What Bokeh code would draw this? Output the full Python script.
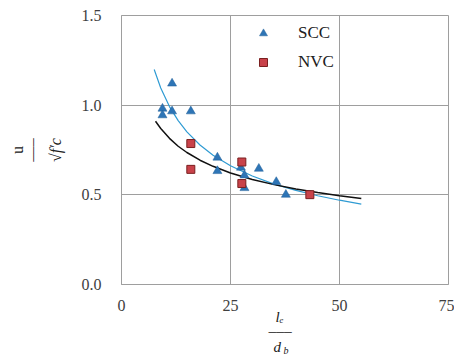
import math
from bokeh.plotting import figure
from bokeh.models import Range1d, FixedTicker, Legend, LegendItem, CustomJSTickFormatter, Title
from bokeh.embed import file_html
from bokeh.resources import INLINE

# SCC data (triangles)
scc_x = [11.6, 9.4, 9.4, 11.6, 15.9, 22.0, 22.0, 27.4, 28.2, 28.2, 31.5, 35.5, 37.7]
scc_y = [1.121, 0.981, 0.944, 0.966, 0.966, 0.708, 0.633, 0.652, 0.609, 0.538, 0.646, 0.572, 0.501]
# NVC data (squares)
nvc_x = [15.9, 15.9, 27.6, 27.6, 43.2]
nvc_y = [0.786, 0.642, 0.683, 0.563, 0.501]
# trend curves
blue_x = [7.5, 9, 11, 13, 15, 18, 21, 25, 30, 35, 40, 45, 50, 55]
blue_y = [1.199, 1.096, 0.992, 0.914, 0.851, 0.778, 0.721, 0.662, 0.605, 0.560, 0.525, 0.495, 0.470, 0.448]
black_x = [7.8, 9, 11, 13, 15, 18, 21, 25, 30, 35, 40, 45, 50, 55]
black_y = [0.910, 0.870, 0.815, 0.771, 0.736, 0.693, 0.659, 0.622, 0.586, 0.557, 0.533, 0.513, 0.495, 0.480]

x_ticks = [0, 25, 50, 75]
y_ticks = [0.0, 0.5, 1.0, 1.5]

FL, FT = 121, 15
W, H = 454, 360
FR, FB = 448, 284
SERIF = "serif"

p = figure(width=W, height=H, output_backend="svg", toolbar_location=None,
           x_range=Range1d(0, 75), y_range=Range1d(0, 1.5),
           min_border_left=FL, min_border_right=W - FR, min_border_top=FT,
           min_border_bottom=H - FB)

grey = "#9e9e9e"
p.outline_line_color = grey
p.outline_line_width = 1
p.background_fill_color = "white"
p.border_fill_color = "white"
for g in (p.xgrid, p.ygrid):
    g.grid_line_color = grey
    g.grid_line_width = 1
p.xgrid.ticker = FixedTicker(ticks=x_ticks)
p.ygrid.ticker = FixedTicker(ticks=y_ticks)

for ax in (p.xaxis, p.yaxis):
    ax.axis_line_color = grey
    ax.major_tick_line_color = None
    ax.minor_tick_line_color = None
    ax.major_label_text_font = SERIF
    ax.major_label_text_font_size = "16px"
    ax.major_label_text_color = "#404040"
p.xaxis.ticker = FixedTicker(ticks=x_ticks)
p.yaxis.ticker = FixedTicker(ticks=y_ticks)
p.yaxis.formatter = CustomJSTickFormatter(code="return tick.toFixed(1)")
p.xaxis.major_label_standoff = 9
p.yaxis.major_label_standoff = 14

p.line(blue_x, blue_y, line_color="#2f9bd3", line_width=1.2)
p.line(black_x, black_y, line_color="#111111", line_width=1.5)

r_scc = p.scatter(scc_x, scc_y, marker="triangle", size=9, fill_color="#2e75b6", line_color="#1f5f99", line_width=0.5)
r_nvc = p.scatter(nvc_x, nvc_y, marker="square", size=8, fill_color="#c9424a", line_color="#7a2020", line_width=1)

legend = Legend(items=[LegendItem(label="SCC", renderers=[r_scc]),
                       LegendItem(label="NVC", renderers=[r_nvc])],
                location=(132, 212), padding=0, margin=0, spacing=9,
                glyph_width=20, glyph_height=20, label_standoff=25,
                label_text_font=SERIF, label_text_font_size="17px",
                label_text_color="#202020",
                background_fill_alpha=0, border_line_color=None)
p.add_layout(legend)

def title(text, side, size, style="normal", standoff=0, offset=0, align="center"):
    p.add_layout(Title(text=text, align=align, text_font=SERIF, text_font_style=style,
                       text_font_size=size, text_color="#202020", standoff=standoff,
                       offset=offset), side)

# y title: u / sqrt(f'c), stacked outward from the axis
title("\u221Af\u2032c", "left", "16px", style="italic", standoff=30)
title("\u2500\u2500\u2500", "left", "11px", standoff=-19)
title("u", "left", "16px", standoff=8)

# x title: l_e / d_b, stacked downward from the axis
title("l\u2091", "below", "15px", style="italic", standoff=-14, offset=154, align="left")
title("\u2500\u2500\u2500", "below", "11px", standoff=12, offset=147, align="left")
title("d", "below", "15px", style="italic", standoff=-14, offset=152, align="left")
title("b", "below", "10px", style="italic", standoff=-17, offset=162, align="left")

open("out.html", "w").write(file_html(p, INLINE))
